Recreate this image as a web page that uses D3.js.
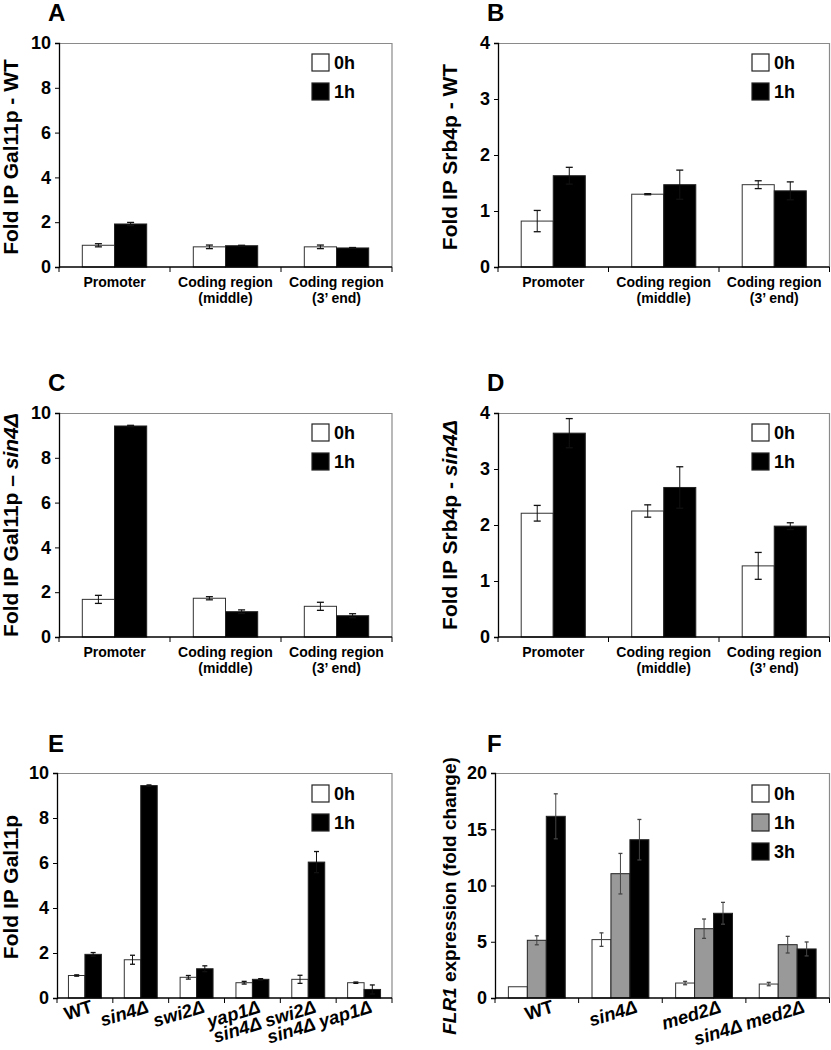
<!DOCTYPE html>
<html><head><meta charset="utf-8">
<script src="https://cdn.jsdelivr.net/npm/d3@7"></script>
<style>
html,body{margin:0;padding:0;background:#fff;}
svg{display:block;font-family:"Liberation Sans",Arial,sans-serif;font-weight:bold;}
</style></head>
<body>
<svg id="chart" width="831" height="1050"></svg>
<script>
// ---- data ----
const regionLine1 = ["Promoter", "Coding region", "Coding region"];
const regionLine2 = ["", "(middle)", "(3\u2019 end)"];
const seriesTwo = ["0h", "1h"];
const seriesThree = ["0h", "1h", "3h"];

const A_0h = [0.97, 0.90, 0.90], A_0h_err = [0.07, 0.08, 0.08];
const A_1h = [1.92, 0.95, 0.85], A_1h_err = [0.07, 0.02, 0.02];

const B_0h = [0.82, 1.30, 1.47], B_0h_err = [0.19, 0.01, 0.07];
const B_1h = [1.63, 1.47, 1.36], B_1h_err = [0.15, 0.26, 0.16];

const C_0h = [1.68, 1.73, 1.37], C_0h_err = [0.18, 0.07, 0.18];
const C_1h = [9.42, 1.13, 0.95], C_1h_err = [0.03, 0.08, 0.09];

const D_0h = [2.21, 2.25, 1.27], D_0h_err = [0.14, 0.11, 0.24];
const D_1h = [3.64, 2.67, 1.98], D_1h_err = [0.26, 0.37, 0.06];

const strainsE = ["WT", "sin4\u0394", "swi2\u0394", "yap1\u0394", "sin4\u0394 swi2\u0394", "sin4\u0394 yap1\u0394"];
const E_0h = [1.00, 1.70, 0.92, 0.68, 0.83, 0.68], E_0h_err = [0.03, 0.20, 0.08, 0.06, 0.18, 0.03];
const E_1h = [1.94, 9.44, 1.30, 0.83, 6.04, 0.38], E_1h_err = [0.08, 0.03, 0.13, 0.03, 0.47, 0.20];

const strainsF = ["WT", "sin4\u0394", "med2\u0394", "sin4\u0394 med2\u0394"];
const F_0h = [1.00, 5.19, 1.33, 1.24], F_0h_err = [0.00, 0.60, 0.15, 0.15];
const F_1h = [5.13, 11.05, 6.16, 4.74], F_1h_err = [0.40, 1.80, 0.86, 0.74];
const F_3h = [16.15, 14.07, 7.53, 4.36], F_3h_err = [2.00, 1.80, 0.97, 0.62];

const ticksA = [0, 2, 4, 6, 8, 10];
const ticksB = [0, 1, 2, 3, 4];
const ticksF = [0, 5, 10, 15, 20];

const fills = {"0h": "#ffffff", "1h": "#000000", "3h": "#000000"};

// ---- drawing ----
const svg = d3.select("#chart");

function panel(cfg) {
  const g = svg.append("g");
  const {left, right, top, bottom} = cfg;
  const y = d3.scaleLinear().domain([0, cfg.ymax]).range([bottom, top]);
  const x = d3.scaleBand().domain(cfg.cats.map((c, i) => i)).range([left, right]).padding(0);
  const xs = d3.scaleBand().domain(cfg.series).range([cfg.inner * x.bandwidth(), (1 - cfg.inner) * x.bandwidth()]).padding(0);

  // frame top/right
  g.append("path").attr("d", `M${left},${top + 0.5}H${right}V${bottom}`)
    .attr("fill", "none").attr("stroke", "#8a8a8a").attr("stroke-width", 1.2);

  // bars
  cfg.series.forEach((s, si) => {
    const vals = cfg.values[si];
    const fill = cfg.fills[s];
    cfg.cats.forEach((c, i) => {
      const bx = x(i) + xs(s);
      g.append("rect").attr("x", bx).attr("y", y(vals[i])).attr("width", xs.bandwidth())
        .attr("height", y(0) - y(vals[i])).attr("fill", fill)
        .attr("stroke", s === "0h" ? "#333" : "#222").attr("stroke-width", 1);
    });
  });
  // error bars
  cfg.series.forEach((s, si) => {
    const vals = cfg.values[si], errs = cfg.errors[si];
    cfg.cats.forEach((c, i) => {
      if (errs[i] <= 0) return;
      const cx = x(i) + xs(s) + xs.bandwidth() / 2;
      const y1 = y(vals[i] + errs[i]), y0 = y(Math.max(0, vals[i] - errs[i]));
      const col = cfg.errColor || "#111";
      const hw = cfg.cap;
      g.append("line").attr("x1", cx).attr("x2", cx).attr("y1", y1).attr("y2", y0).attr("stroke", col).attr("stroke-width", 1);
      g.append("line").attr("x1", cx - hw).attr("x2", cx + hw).attr("y1", y1).attr("y2", y1).attr("stroke", col).attr("stroke-width", 1.3);
      g.append("line").attr("x1", cx - hw).attr("x2", cx + hw).attr("y1", y0).attr("y2", y0).attr("stroke", col).attr("stroke-width", 1.3);
    });
  });

  // y axis
  const ya = g.append("g").attr("transform", `translate(${left},0)`)
    .call(d3.axisLeft(y).tickValues(cfg.ticks).tickSize(4).tickPadding(4).tickFormat(d3.format("d")));
  ya.select(".domain").attr("stroke", "#000").attr("stroke-width", 1.3);
  ya.selectAll(".tick line").attr("stroke", "#000");
  ya.selectAll(".tick text").attr("font-size", 18).attr("font-weight", "bold")
    .attr("font-family", "Liberation Sans, Arial, sans-serif").attr("fill", "#000");

  // x axis
  const xa = g.append("g").attr("transform", `translate(0,${bottom})`);
  xa.append("line").attr("x1", left).attr("x2", right).attr("stroke", "#000").attr("stroke-width", 1.3);
  d3.range(cfg.cats.length + 1).forEach(i => {
    const xx = i < cfg.cats.length ? x(i) : right;
    xa.append("line").attr("x1", xx).attr("x2", xx).attr("y1", 0).attr("y2", 5).attr("stroke", "#000");
  });

  // category labels
  if (cfg.catLabelMode === "two") {
    cfg.cats.forEach((c, i) => {
      const cx = x(i) + x.bandwidth() / 2;
      g.append("text").attr("x", cx).attr("y", bottom + 20).attr("text-anchor", "middle")
        .attr("font-size", 14).text(regionLine1[i]);
      if (regionLine2[i]) g.append("text").attr("x", cx).attr("y", bottom + 36).attr("text-anchor", "middle")
        .attr("font-size", 14).text(regionLine2[i]);
    });
  } else {
    cfg.cats.forEach((c, i) => {
      const cx = x(i) + x.bandwidth() / 2;
      g.append("text").attr("transform", `translate(${cx + cfg.lblDx},${bottom + cfg.lblDy}) rotate(-17)`)
        .attr("text-anchor", "end").attr("font-size", cfg.lblSize)
        .attr("font-style", c === "WT" ? "normal" : "italic").text(c);
    });
  }

  // y title
  const t = g.append("text").attr("transform", `translate(${cfg.titleX},${cfg.titleY}) rotate(-90)`)
    .attr("text-anchor", "middle").attr("font-size", cfg.titleSize);
  cfg.title.forEach(p => t.append("tspan").attr("font-style", p[1] ? "italic" : "normal").text(p[0]));

  // panel letter
  g.append("text").attr("x", cfg.letterX).attr("y", cfg.letterY).attr("font-size", 24).text(cfg.letter);

  // legend
  cfg.series.forEach((s, si) => {
    const ly = top + cfg.legDy + si * 29;
    const lx = left + cfg.legDx;
    g.append("rect").attr("x", lx).attr("y", ly).attr("width", 17).attr("height", 17)
      .attr("fill", cfg.fills[s]).attr("stroke", "#222").attr("stroke-width", 1.2);
    g.append("text").attr("x", lx + 22).attr("y", ly + 15).attr("font-size", 18).text(s);
  });
}

const common2 = {series: seriesTwo, fills: fills, catLabelMode: "two", titleSize: 21, legDy: 11};

panel(Object.assign({}, common2, {
  left: 59, right: 392, top: 43, bottom: 267, ymax: 10, ticks: ticksA, inner: 0.21, cap: 3.5,
  cats: regionLine1, values: [A_0h, A_1h], errors: [A_0h_err, A_1h_err],
  title: [["Fold IP Gal11p - WT", false]], titleX: 18, titleY: 157, letter: "A", letterX: 48, letterY: 21, legDx: 253
}));
panel(Object.assign({}, common2, {
  left: 498, right: 829.5, top: 43, bottom: 267, ymax: 4, ticks: ticksB, inner: 0.21, cap: 3.5,
  cats: regionLine1, values: [B_0h, B_1h], errors: [B_0h_err, B_1h_err],
  title: [["Fold IP Srb4p - WT", false]], titleX: 457, titleY: 157, letter: "B", letterX: 487, letterY: 21, legDx: 254
}));
panel(Object.assign({}, common2, {
  left: 59, right: 392, top: 413, bottom: 637, ymax: 10, ticks: ticksA, inner: 0.21, cap: 3.5,
  cats: regionLine1, values: [C_0h, C_1h], errors: [C_0h_err, C_1h_err],
  title: [["Fold IP Gal11p \u2013 ", false], ["sin4\u0394", true]], titleX: 18, titleY: 525, letter: "C", letterX: 48, letterY: 391, legDx: 253
}));
panel(Object.assign({}, common2, {
  left: 498, right: 829.5, top: 413, bottom: 637, ymax: 4, ticks: ticksB, inner: 0.21, cap: 3.5,
  cats: regionLine1, values: [D_0h, D_1h], errors: [D_0h_err, D_1h_err],
  title: [["Fold IP Srb4p - ", false], ["sin4\u0394", true]], titleX: 457, titleY: 525, letter: "D", letterX: 487, letterY: 391, legDx: 254
}));
panel({
  series: seriesTwo, fills: fills, catLabelMode: "rot", lblDx: 9, lblDy: 14, lblSize: 18.5, titleSize: 21, legDy: 12,
  left: 57, right: 392, top: 773, bottom: 998, ymax: 10, ticks: ticksA, inner: 0.205, cap: 2.5,
  cats: strainsE, values: [E_0h, E_1h], errors: [E_0h_err, E_1h_err],
  title: [["Fold IP Gal11p", false]], titleX: 18, titleY: 887, letter: "E", letterX: 48, letterY: 752, legDx: 255
});
panel({
  series: seriesThree, fills: {"0h": "#ffffff", "1h": "#999999", "3h": "#000000"}, catLabelMode: "rot", lblDx: 18, lblDy: 14, lblSize: 18.5,
  titleSize: 19, legDy: 12, errColor: "#444",
  left: 495, right: 829.5, top: 773, bottom: 998, ymax: 20, ticks: ticksF, inner: 0.16, cap: 2,
  cats: strainsF, values: [F_0h, F_1h, F_3h], errors: [F_0h_err, F_1h_err, F_3h_err],
  title: [["FLR1", true], [" expression (fold change)", false]], titleX: 456, titleY: 896, letter: "F", letterX: 487, letterY: 752, legDx: 257
});
</script>
</body></html>
